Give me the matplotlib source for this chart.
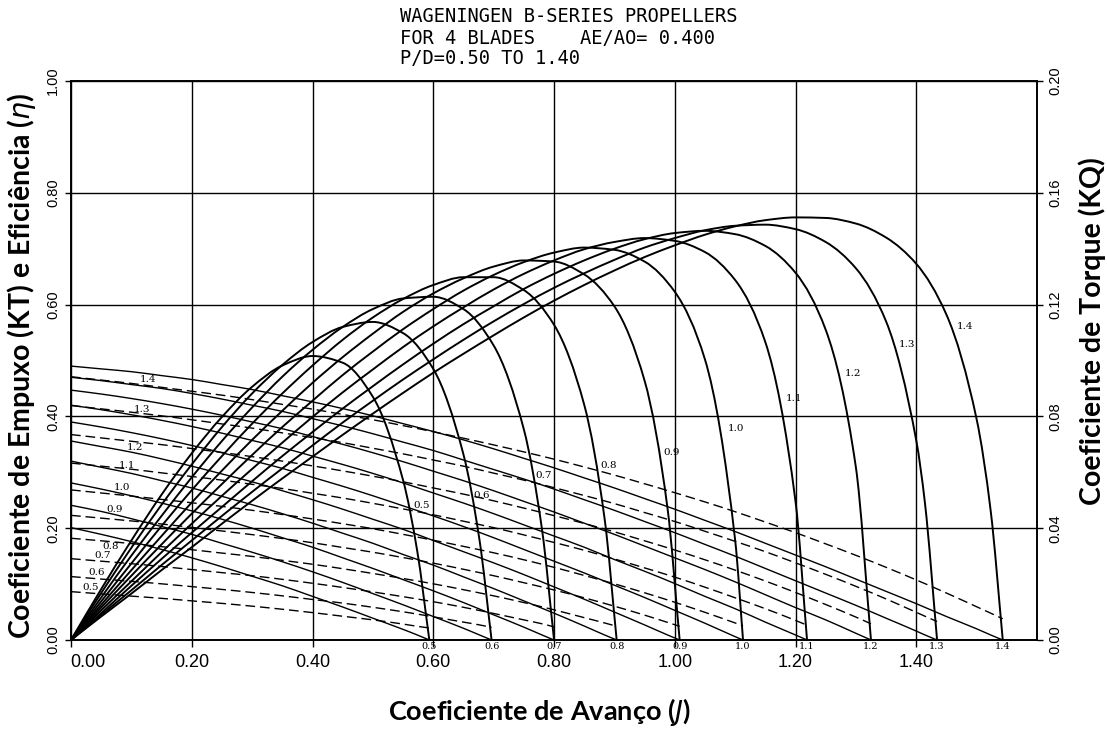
import matplotlib
matplotlib.use('Agg')
import matplotlib.pyplot as plt
from matplotlib.path import Path
from matplotlib.patches import PathPatch

# ---------------- data ----------------
PD_VALUES = [0.5, 0.6, 0.7, 0.8, 0.9, 1.0, 1.1, 1.2, 1.3, 1.4]
PD_LABELS = ['0.5', '0.6', '0.7', '0.8', '0.9', '1.0', '1.1', '1.2', '1.3', '1.4']

# advance coefficient grid shared by all curves, then per-curve end points
J_GRID = [0.00, 0.05, 0.10, 0.15, 0.20, 0.25, 0.30, 0.35, 0.40, 0.45, 0.50,
          0.55, 0.60, 0.65, 0.70, 0.75, 0.80, 0.85, 0.90, 0.95, 1.00, 1.05,
          1.10, 1.15, 1.20, 1.25, 1.30, 1.35, 1.40, 1.45, 1.50]
J_TAIL_P05 = [0.5735, 0.5935]
J_TAIL_P06 = [0.6766, 0.6966]
J_TAIL_P07 = [0.7801, 0.8001]
J_TAIL_P08 = [0.8838, 0.9038]
J_TAIL_P09 = [0.9881, 1.0081]
J_TAIL_P10 = [1.1131]
J_TAIL_P11 = [1.2191]
J_TAIL_P12 = [1.325]
J_TAIL_P13 = [1.4145, 1.4345]
J_TAIL_P14 = [1.5233, 1.5433]

KT_P05 = [0.201, 0.189, 0.176, 0.162, 0.147, 0.131, 0.114, 0.097, 0.078, 0.059, 0.039, 0.019, 0.009, 0.000]
KQ_P05 = [0.0173, 0.0165, 0.0157, 0.0149, 0.0140, 0.0131, 0.0121, 0.0110, 0.0098, 0.0085, 0.0072, 0.0057, 0.0049, 0.0043]
ETA_P05 = [0.000, 0.091, 0.178, 0.260, 0.334, 0.399, 0.453, 0.491, 0.508, 0.496, 0.435, 0.286, 0.159, 0.000]

KT_P06 = [0.241, 0.230, 0.217, 0.203, 0.189, 0.173, 0.157, 0.140, 0.122, 0.103, 0.083, 0.063, 0.042, 0.021, 0.009, 0.000]
KQ_P06 = [0.0227, 0.0218, 0.0210, 0.0201, 0.0191, 0.0181, 0.0170, 0.0158, 0.0145, 0.0132, 0.0117, 0.0101, 0.0083, 0.0064, 0.0054, 0.0045]
ETA_P06 = [0.000, 0.084, 0.165, 0.242, 0.314, 0.381, 0.441, 0.492, 0.533, 0.560, 0.569, 0.549, 0.485, 0.332, 0.179, 0.000]

KT_P07 = [0.281, 0.270, 0.258, 0.245, 0.231, 0.216, 0.200, 0.183, 0.166, 0.147, 0.128, 0.108, 0.088, 0.067, 0.045, 0.023, 0.009, 0.000]
KQ_P07 = [0.0291, 0.0282, 0.0273, 0.0263, 0.0252, 0.0241, 0.0230, 0.0217, 0.0203, 0.0188, 0.0172, 0.0155, 0.0137, 0.0117, 0.0095, 0.0072, 0.0058, 0.0047]
ETA_P07 = [0.000, 0.076, 0.151, 0.222, 0.291, 0.356, 0.416, 0.471, 0.519, 0.560, 0.592, 0.611, 0.614, 0.592, 0.527, 0.377, 0.198, 0.000]

KT_P08 = [0.320, 0.309, 0.298, 0.285, 0.272, 0.257, 0.242, 0.226, 0.209, 0.191, 0.173, 0.153, 0.134, 0.113, 0.092, 0.070, 0.048, 0.025, 0.009, 0.000]
KQ_P08 = [0.0364, 0.0355, 0.0345, 0.0334, 0.0323, 0.0311, 0.0299, 0.0285, 0.0271, 0.0255, 0.0238, 0.0220, 0.0201, 0.0180, 0.0158, 0.0134, 0.0108, 0.0080, 0.0061, 0.0049]
ETA_P08 = [0.000, 0.069, 0.137, 0.204, 0.268, 0.329, 0.387, 0.441, 0.491, 0.537, 0.577, 0.610, 0.635, 0.649, 0.649, 0.626, 0.564, 0.421, 0.217, 0.000]

KT_P09 = [0.356, 0.346, 0.336, 0.324, 0.311, 0.297, 0.283, 0.267, 0.251, 0.234, 0.216, 0.198, 0.178, 0.158, 0.138, 0.117, 0.095, 0.073, 0.050, 0.027, 0.009, 0.000]
KQ_P09 = [0.0446, 0.0436, 0.0426, 0.0415, 0.0403, 0.0390, 0.0377, 0.0363, 0.0348, 0.0331, 0.0314, 0.0295, 0.0275, 0.0253, 0.0230, 0.0205, 0.0179, 0.0151, 0.0121, 0.0089, 0.0063, 0.0049]
ETA_P09 = [0.000, 0.063, 0.125, 0.186, 0.246, 0.303, 0.358, 0.410, 0.460, 0.506, 0.548, 0.587, 0.620, 0.647, 0.668, 0.679, 0.677, 0.654, 0.597, 0.464, 0.235, 0.000]

KT_P10 = [0.390, 0.381, 0.371, 0.360, 0.348, 0.335, 0.321, 0.307, 0.291, 0.275, 0.258, 0.240, 0.222, 0.203, 0.183, 0.162, 0.141, 0.120, 0.098, 0.076, 0.053, 0.030, 0.006, 0.000]
KQ_P10 = [0.0537, 0.0526, 0.0515, 0.0503, 0.0491, 0.0478, 0.0464, 0.0449, 0.0433, 0.0416, 0.0398, 0.0378, 0.0357, 0.0335, 0.0312, 0.0287, 0.0260, 0.0231, 0.0201, 0.0169, 0.0135, 0.0099, 0.0061, 0.0051]
ETA_P10 = [0.000, 0.058, 0.115, 0.171, 0.226, 0.279, 0.331, 0.381, 0.428, 0.474, 0.516, 0.556, 0.592, 0.625, 0.653, 0.676, 0.693, 0.702, 0.698, 0.677, 0.623, 0.502, 0.179, 0.000]

KT_P11 = [0.420, 0.412, 0.403, 0.393, 0.382, 0.370, 0.357, 0.344, 0.329, 0.314, 0.298, 0.281, 0.263, 0.245, 0.226, 0.206, 0.186, 0.166, 0.144, 0.123, 0.101, 0.078, 0.056, 0.032, 0.009, 0.000]
KQ_P11 = [0.0633, 0.0622, 0.0611, 0.0598, 0.0585, 0.0572, 0.0557, 0.0542, 0.0525, 0.0508, 0.0489, 0.0469, 0.0448, 0.0425, 0.0402, 0.0376, 0.0349, 0.0321, 0.0290, 0.0258, 0.0225, 0.0189, 0.0151, 0.0112, 0.0070, 0.0053]
ETA_P11 = [0.000, 0.053, 0.105, 0.157, 0.208, 0.258, 0.306, 0.353, 0.399, 0.443, 0.484, 0.524, 0.561, 0.595, 0.627, 0.655, 0.679, 0.699, 0.712, 0.719, 0.714, 0.694, 0.644, 0.533, 0.248, 0.000]

KT_P12 = [0.447, 0.440, 0.432, 0.423, 0.413, 0.402, 0.390, 0.378, 0.364, 0.350, 0.335, 0.319, 0.302, 0.285, 0.267, 0.248, 0.229, 0.209, 0.189, 0.168, 0.147, 0.126, 0.104, 0.081, 0.058, 0.036, 0.012, 0.000]
KQ_P12 = [0.0735, 0.0723, 0.0711, 0.0699, 0.0685, 0.0671, 0.0656, 0.0640, 0.0623, 0.0605, 0.0586, 0.0566, 0.0544, 0.0522, 0.0498, 0.0472, 0.0445, 0.0417, 0.0387, 0.0355, 0.0322, 0.0287, 0.0250, 0.0211, 0.0170, 0.0127, 0.0082, 0.0058]
ETA_P12 = [0.000, 0.048, 0.097, 0.145, 0.192, 0.238, 0.284, 0.329, 0.372, 0.414, 0.454, 0.493, 0.530, 0.565, 0.597, 0.628, 0.655, 0.679, 0.700, 0.717, 0.728, 0.732, 0.726, 0.705, 0.657, 0.555, 0.309, 0.000]

KT_P13 = [0.470, 0.464, 0.457, 0.450, 0.441, 0.431, 0.420, 0.409, 0.396, 0.383, 0.369, 0.354, 0.339, 0.322, 0.305, 0.288, 0.270, 0.251, 0.232, 0.212, 0.192, 0.171, 0.150, 0.128, 0.106, 0.084, 0.062, 0.039, 0.016, 0.009, 0.000]
KQ_P13 = [0.0839, 0.0827, 0.0815, 0.0802, 0.0788, 0.0773, 0.0758, 0.0741, 0.0724, 0.0706, 0.0686, 0.0666, 0.0644, 0.0622, 0.0597, 0.0572, 0.0545, 0.0517, 0.0488, 0.0456, 0.0424, 0.0389, 0.0353, 0.0316, 0.0276, 0.0235, 0.0192, 0.0147, 0.0099, 0.0085, 0.0066]
ETA_P13 = [0.000, 0.045, 0.089, 0.134, 0.178, 0.222, 0.265, 0.307, 0.348, 0.389, 0.428, 0.466, 0.502, 0.537, 0.570, 0.601, 0.630, 0.656, 0.680, 0.702, 0.719, 0.733, 0.741, 0.743, 0.735, 0.712, 0.665, 0.570, 0.357, 0.244, 0.000]

KT_P14 = [0.490, 0.485, 0.480, 0.473, 0.466, 0.457, 0.448, 0.437, 0.426, 0.414, 0.401, 0.387, 0.373, 0.358, 0.342, 0.325, 0.308, 0.290, 0.272, 0.253, 0.234, 0.214, 0.194, 0.173, 0.152, 0.131, 0.109, 0.087, 0.065, 0.042, 0.020, 0.009, 0.000]
KQ_P14 = [0.0942, 0.0930, 0.0918, 0.0904, 0.0890, 0.0876, 0.0860, 0.0843, 0.0826, 0.0807, 0.0788, 0.0767, 0.0745, 0.0722, 0.0698, 0.0673, 0.0647, 0.0619, 0.0590, 0.0559, 0.0527, 0.0494, 0.0459, 0.0422, 0.0384, 0.0344, 0.0303, 0.0260, 0.0215, 0.0168, 0.0119, 0.0096, 0.0076]
ETA_P14 = [0.000, 0.042, 0.083, 0.125, 0.166, 0.208, 0.249, 0.289, 0.328, 0.367, 0.405, 0.442, 0.478, 0.512, 0.545, 0.577, 0.607, 0.635, 0.661, 0.685, 0.706, 0.725, 0.740, 0.751, 0.756, 0.755, 0.745, 0.720, 0.673, 0.582, 0.395, 0.231, 0.000]

X_TICKS = [0.0, 0.2, 0.4, 0.6, 0.8, 1.0, 1.2, 1.4]
X_TICK_LABELS = ['0.00', '0.20', '0.40', '0.60', '0.80', '1.00', '1.20', '1.40']
Y_TICKS = [0.0, 0.2, 0.4, 0.6, 0.8, 1.0]
Y_TICK_LABELS = ['0.00', '0.20', '0.40', '0.60', '0.80', '1.00']
KQ_TICKS = [0.0, 0.04, 0.08, 0.12, 0.16, 0.20]
KQ_TICK_LABELS = ['0.00', '0.04', '0.08', '0.12', '0.16', '0.20']

J_TAILS = [J_TAIL_P05, J_TAIL_P06, J_TAIL_P07, J_TAIL_P08, J_TAIL_P09,
           J_TAIL_P10, J_TAIL_P11, J_TAIL_P12, J_TAIL_P13, J_TAIL_P14]
KT_ALL = [KT_P05, KT_P06, KT_P07, KT_P08, KT_P09, KT_P10, KT_P11, KT_P12, KT_P13, KT_P14]
KQ_ALL = [KQ_P05, KQ_P06, KQ_P07, KQ_P08, KQ_P09, KQ_P10, KQ_P11, KQ_P12, KQ_P13, KQ_P14]
ETA_ALL = [ETA_P05, ETA_P06, ETA_P07, ETA_P08, ETA_P09, ETA_P10, ETA_P11, ETA_P12, ETA_P13, ETA_P14]

# annotation anchors (label placement, in axis units)
ETA_LABEL_POS = [(0.58, 0.24), (0.68, 0.258), (0.783, 0.295), (0.891, 0.313), (0.994, 0.336),
                 (1.102, 0.378), (1.197, 0.432), (1.296, 0.477), (1.384, 0.529), (1.48, 0.561)]
KQ_LABEL_POS = [(0.032, 0.094), (0.043, 0.121), (0.053, 0.151), (0.065, 0.168), (0.073, 0.234),
                (0.085, 0.273), (0.093, 0.312), (0.106, 0.345), (0.118, 0.413), (0.128, 0.466)]


def smooth_path(xs, ys):
    """Bezier path passing through every data point (monotone cubic tangents)."""
    n = len(xs)
    h = [xs[k + 1] - xs[k] for k in range(n - 1)]
    d = [(ys[k + 1] - ys[k]) / h[k] for k in range(n - 1)]
    m = [0.0] * n
    m[0], m[-1] = d[0], d[-1]
    for k in range(1, n - 1):
        if d[k - 1] * d[k] > 0:
            w1 = 2 * h[k] + h[k - 1]
            w2 = h[k] + 2 * h[k - 1]
            m[k] = (w1 + w2) / (w1 / d[k - 1] + w2 / d[k])
    verts = [(xs[0], ys[0])]
    codes = [Path.MOVETO]
    for k in range(n - 1):
        verts += [(xs[k] + h[k] / 3, ys[k] + m[k] * h[k] / 3),
                  (xs[k + 1] - h[k] / 3, ys[k + 1] - m[k + 1] * h[k] / 3),
                  (xs[k + 1], ys[k + 1])]
        codes += [Path.CURVE4] * 3
    return Path(verts, codes)


# ---------------- figure ----------------
W, H = 1107, 729
fig = plt.figure(figsize=(W / 100, H / 100), dpi=100)
ax = fig.add_axes([71 / W, 1 - 640 / H, (1037 - 71) / W, (640 - 81) / H])
ax.set_xlim(0, 1.6)
ax.set_ylim(0, 1)
ax2 = ax.twinx()
ax2.set_ylim(0, 0.2)

sans = ['Liberation Sans', 'DejaVu Sans']
serif = ['DejaVu Serif']
ax.set_xticks(X_TICKS)
ax.set_xticklabels([''] + X_TICK_LABELS[1:], fontsize=13, family=sans)
ax.set_yticks(Y_TICKS)
ax.set_yticklabels(Y_TICK_LABELS, rotation=90, va='center', fontsize=10.5, family=sans)
ax2.set_yticks(KQ_TICKS)
ax2.set_yticklabels(KQ_TICK_LABELS, rotation=90, va='center', fontsize=10.5, family=sans)
ax.tick_params(axis='y', direction='out', length=4, width=1, pad=4)
ax.tick_params(axis='x', direction='out', length=5, width=1, pad=5)
ax2.tick_params(direction='out', length=4, width=1, pad=4)
# the 0.00 label of the J axis sits a little right of its tick in the reference
ax.text(X_TICKS[0] + 0.028, -0.04, X_TICK_LABELS[0], fontsize=13, family=sans,
        ha='center', va='center')
ax.grid(True, color='k', lw=1.0)
for a in (ax, ax2):
    for s in a.spines.values():
        s.set_linewidth(1.2)

for i, pd_lab in enumerate(PD_LABELS):
    kt, kq, eta, tail = KT_ALL[i], KQ_ALL[i], ETA_ALL[i], J_TAILS[i]
    js = J_GRID[:len(kt) - len(tail)] + tail
    ax.add_patch(PathPatch(smooth_path(js, kt), fill=False, edgecolor='k', lw=1.0))
    ax2.add_patch(PathPatch(smooth_path(js, kq), fill=False, edgecolor='k', lw=1.0,
                            linestyle=(0, (7, 3.5))))
    ax.add_patch(PathPatch(smooth_path(js, eta), fill=False, edgecolor='k', lw=1.4))
    ax.text(js[-1], -0.012, pd_lab, fontsize=7, family=serif, ha='center', va='center')
    ax.text(*ETA_LABEL_POS[i], pd_lab, fontsize=7.5, family=serif, ha='center', va='center')
    ax.text(*KQ_LABEL_POS[i], pd_lab, fontsize=7.5, family=serif, ha='center', va='center')

mono = 'DejaVu Sans Mono'
fig.text(400 / W, 1 - 16 / H, 'WAGENINGEN B-SERIES PROPELLERS', family=mono, fontsize=13.5, va='center')
fig.text(400 / W, 1 - 38 / H, 'FOR 4 BLADES    AE/AO= 0.400', family=mono, fontsize=13.5, va='center')
fig.text(400 / W, 1 - 58 / H, 'P/D=0.50 TO 1.40', family=mono, fontsize=13.5, va='center')

bold = ['Lato', 'DejaVu Sans']
fig.text(22 / W, 1 - 366 / H, r'Coeficiente de Empuxo (KT) e Eficiência ($\eta$)', rotation=90,
         ha='center', va='center', fontsize=20.5, fontweight='bold', family=bold)
fig.text(1092 / W, 1 - 331 / H, 'Coeficiente de Torque (KQ)', rotation=90,
         ha='center', va='center', fontsize=20.5, fontweight='bold', family=bold)
fig.text(540 / W, 1 - 712 / H, r'Coeficiente de Avanço ($J$)',
         ha='center', va='center', fontsize=19.5, fontweight='bold', family=bold)

fig.savefig('out.png')
